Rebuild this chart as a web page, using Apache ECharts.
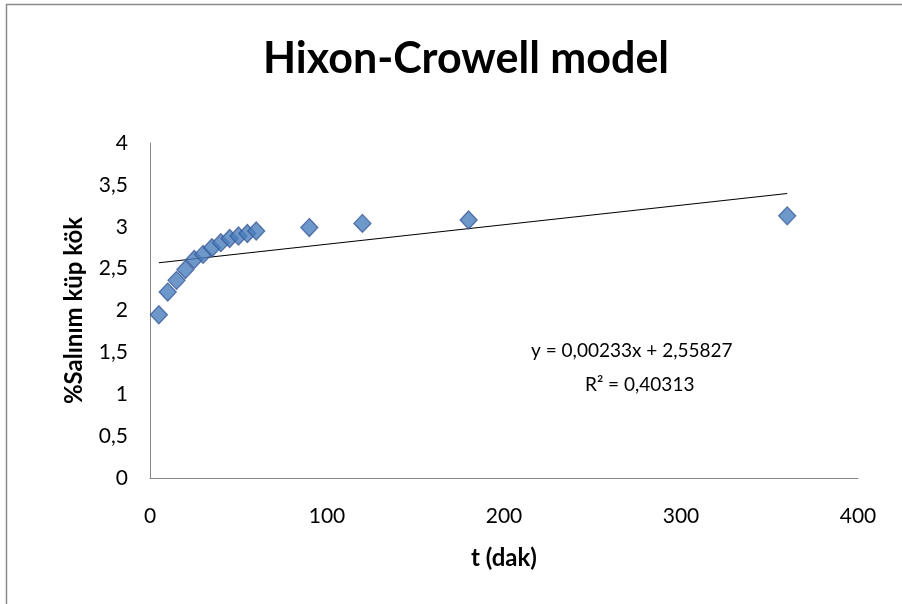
<!DOCTYPE html>
<html>
<head>
<meta charset="utf-8">
<script src="https://cdn.jsdelivr.net/npm/echarts@6/dist/echarts.min.js"></script>
<style>html,body{margin:0;padding:0;background:#fff}#c{width:902px;height:604px}</style>
</head>
<body>
<div id="c"></div>
<script>
const titleText = "Hixon-Crowell model";
const xName = "t (dak)";
const yName = "%Salınım küp kök";
const times = [5, 10, 15, 20, 25, 30, 35, 40, 45, 50, 55, 60, 90, 120, 180, 360];
const values = [1.95, 2.22, 2.36, 2.49, 2.61, 2.67, 2.75, 2.81, 2.86, 2.89, 2.92, 2.95, 2.99, 3.04, 3.08, 3.13];
const slope = 0.00233;
const intercept = 2.55827;
const trendRange = [5, 360];
const eqLine1 = "y = 0,00233x + 2,55827";
const eqLine2 = "R² = 0,40313";

const font = "Lato, 'Open Sans', sans-serif";
const points = times.map((t, i) => [t, values[i]]);
const trend = trendRange.map(x => [x, intercept + slope * x]);

const chart = echarts.init(document.getElementById('c'));
chart.setOption({
  animation: false,
  backgroundColor: '#fff',
  title: {
    text: titleText, left: 258, top: 33,
    textStyle: { fontFamily: font, fontSize: 43, fontWeight: 'bold', color: '#000' }
  },
  grid: { left: 150, right: 44, top: 143, bottom: 126 },
  xAxis: {
    type: 'value', min: 0, max: 400, interval: 100,
    name: xName, nameLocation: 'middle', nameGap: 68,
    nameTextStyle: { fontFamily: font, fontSize: 24, fontWeight: 'bold', color: '#000' },
    axisLine: { show: true, lineStyle: { color: '#868686', width: 1 } },
    axisTick: { show: false },
    splitLine: { show: false },
    axisLabel: { fontFamily: font, fontSize: 21, color: '#000', margin: 28 }
  },
  yAxis: {
    type: 'value', min: 0, max: 4, interval: 0.5,
    name: yName, nameLocation: 'middle', nameGap: 64, nameRotate: 90,
    nameTextStyle: { fontFamily: font, fontSize: 24, fontWeight: 'bold', color: '#000' },
    axisLine: { show: true, lineStyle: { color: '#868686', width: 1 } },
    axisTick: { show: false },
    splitLine: { show: false },
    axisLabel: { fontFamily: font, fontSize: 21, color: '#000', margin: 22,
      formatter: v => String(v).replace('.', ',') }
  },
  series: [
    {
      type: 'line', data: trend, showSymbol: false, silent: true,
      lineStyle: { color: '#000', width: 1.2 }, z: 1
    },
    {
      type: 'scatter', data: points, symbol: 'diamond', symbolSize: [17, 18],
      itemStyle: { color: '#4A7EBB', borderColor: '#3A5A9A', borderWidth: 1.3 }, z: 2
    }
  ],
  graphic: [
    { type: 'polyline', shape: { points: [[6.5, 604], [6.5, 4.5], [902, 4.5]] },
      style: { stroke: '#8c8c8c', lineWidth: 1.5, fill: null } },
    { type: 'text', left: 531, top: 341,
      style: { text: eqLine1, font: "19px " + font, fill: '#000' } },
    { type: 'text', left: 585, top: 375,
      style: { text: eqLine2, font: "19px " + font, fill: '#000' } }
  ]
});
</script>
</body>
</html>
